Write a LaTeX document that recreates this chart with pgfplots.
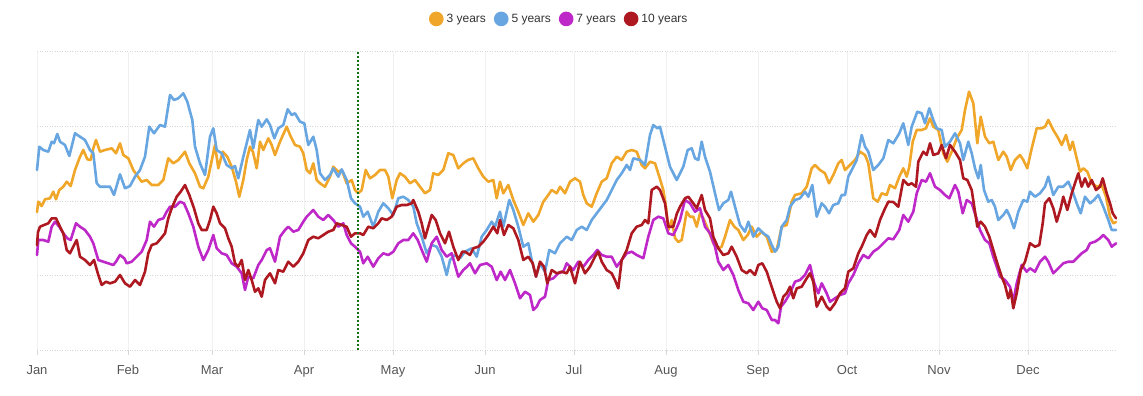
\documentclass[border=0pt]{standalone}
\usepackage{pgfplots}
\pgfplotsset{compat=1.18}
\usepackage{fontspec}
\setmainfont{Liberation Sans}
\definecolor{cOrange}{RGB}{240,166,40}
\definecolor{cBlue}{RGB}{104,166,226}
\definecolor{cMag}{RGB}{190,40,200}
\definecolor{cRed}{RGB}{174,24,32}
\definecolor{cGreen}{RGB}{20,110,20}
\definecolor{gridc}{RGB}{215,215,215}
\definecolor{ticklab}{RGB}{85,85,85}
\pgfplotsset{dotlegend/.style={legend image code/.code={\fill[##1] (0pt,0pt) circle (6pt);}}}
\begin{document}
\begin{tikzpicture}
\path[use as bounding box] (0,0) rectangle (1143pt,396pt);
\begin{axis}[
  at={(37pt,46pt)}, anchor=south west,
  scale only axis, width=1079pt, height=298pt,
  xmin=37, xmax=1116, ymin=52, ymax=350, y dir=reverse,
  axis line style={draw=none},
  xtick={37,128,212,304,393,485,574,666,758,847,939,1028},
  xticklabels={Jan,Feb,Mar,Apr,May,Jun,Jul,Aug,Sep,Oct,Nov,Dec},
  ytick={52,126.5,201,275.5}, yticklabels={},
  extra y ticks={350}, extra y tick labels={},
  extra y tick style={grid=major, major grid style={solid, draw=gridc, line width=1.3pt}, ytick style={draw=none}},
  ymajorgrids, xmajorgrids,
  y grid style={draw=gridc, line width=1pt, dash pattern=on 1pt off 1.5pt},
  x grid style={draw=gray!12, line width=1pt},
  ytick style={draw=none},
  xtick pos=lower,
  xtick style={draw=gridc, line width=1pt},
  tick align=outside, major tick length=5pt,
  xticklabel style={font=\fontsize{13}{15}\selectfont, text=ticklab, yshift=-7pt},
  clip=false,
  dotlegend,
  legend columns=4,
  legend style={at={(0.484,1.111)}, anchor=center, draw=none, fill=none,
    font=\fontsize{12}{14}\selectfont, text=black!80,
    /tikz/every even column/.append style={column sep=6pt},
    /tikz/every odd column/.append style={column sep=1pt}},
  every axis plot/.append style={line width=2.6pt, line join=round, line cap=round},
]
\addplot[cOrange] coordinates {
(37,212) (38.3,201.7) (41.7,206) (45,199.3) (50,198.3) (53.3,191.7) (56,199.3) (59.3,190) (63.3,186.7) (66.7,181.7) (70.7,186) (75,170) (80,156.7) (83.3,150) (87.3,159.3) (90.7,160) (93.3,148.3) (96,140) (100,151.7) (105,150) (111.7,148.3) (116,153.3) (120,143.3) (123.3,155) (128.3,158.3) (133.3,170) (136.7,175) (141.7,181.7) (146.7,180) (151.7,185) (158.3,185) (163.3,180) (168.3,158.3) (173.3,163.3) (178.3,160) (185,151.7) (189.3,163.3) (195,173.3) (200,186.7) (203.3,188.3) (208.3,176.7) (215,145) (218.3,168.3) (222.7,151.7) (227.3,156.7) (231.7,166.7) (236,181.7) (239.3,196.7) (243.3,180) (246.7,160) (250,146.7) (253,152) (256.7,168.3) (260,141.7) (263.3,150) (268.3,138.3) (271.7,145) (275,155) (280,141.7) (286.7,126.7) (290,135) (295,145) (300,146.7) (303.3,153.3) (306.7,170) (310,173.3) (313.3,163.3) (316.7,180) (320,183.3) (325,186.7) (330,176.7) (333.3,166.7) (338.3,171.7) (341.7,170) (346.7,183.3) (351.7,180) (355,190) (358.3,193.3) (361.7,190) (365.7,170) (370,178.3) (375,175) (380,170) (385,170) (388.3,176.7) (392.3,198.3) (396.7,180) (400,173.3) (405,176.7) (410,183.3) (415,180) (420,186.7) (425,193.3) (430,190) (433.3,173.3) (438.3,175) (443.3,170) (448.3,153.3) (453.3,155) (458.3,168.3) (463.3,163.3) (468,160) (473.3,158.3) (478.3,168.3) (483.3,176.7) (488.3,181.7) (493.3,180) (496.7,198.3) (500,181.7) (503.3,193.3) (508.3,185) (513.3,200) (518.3,211.7) (523.3,225) (528.3,213.3) (533.3,221.7) (538.3,215) (543.3,201.7) (548.3,195) (551.7,190) (556.7,193.3) (560,186.7) (565,193.3) (570,181.7) (575,178.3) (580,181.7) (583.3,195) (586.7,203.3) (591.7,206.7) (596.7,193.3) (601.7,181.7) (606.7,178.3) (611.7,163.3) (616.7,156.7) (621.7,160) (626.7,151.7) (631.7,150) (636.7,151.7) (641.7,165) (645,168.3) (650,161.7) (655,163.3) (659.3,176.7) (663.3,190) (666,206.7) (668.3,230) (671.7,220) (675,238) (678.3,242) (681.7,240) (686.7,211.7) (690,216.7) (693.3,216.7) (696.7,226.7) (700,213.3) (703.3,218.3) (708.3,230) (713.3,243.3) (718.3,248.3) (721.7,246.7) (725,236.7) (730,220) (734.3,226.7) (738.3,230) (743.3,240) (747.7,235) (751.7,226.7) (756.7,236.7) (761.7,231.7) (766.7,236.7) (771.7,251.7) (776.7,250) (781.7,226.7) (786.7,225) (791.7,201.7) (795,195) (801.7,193.3) (806.7,186.7) (811.7,168.3) (815,165) (820,170) (825,173.3) (829,183.3) (833.3,175) (838.3,163.3) (841.7,160) (845,170) (850,165) (855,160) (860,151.7) (865,155) (868.3,163.3) (873.3,198.3) (877.7,201.7) (881.7,193.3) (886.7,195) (890,185) (895,188.3) (899.3,176.7) (903.3,168.3) (906.7,176.7) (909.3,166.7) (912.7,141.7) (916.7,130) (921.7,130) (926,128.3) (930,118.3) (933.3,126.7) (938.3,130) (943.3,153.3) (947.3,161.7) (951.7,151.7) (956.7,138.3) (961.7,130) (965,110) (969,91.7) (973.3,103.3) (977.3,143.3) (980.7,116.7) (985,136.7) (989.3,143.3) (993.3,141.7) (998.3,160) (1003.3,151.7) (1006.7,156.7) (1010.7,170) (1015,160) (1020,155) (1023.3,160) (1027.3,168.3) (1031.7,148.3) (1036.7,128.3) (1041.7,128.3) (1045,126.7) (1048.3,120) (1053.3,130) (1058.3,138.3) (1061.7,145) (1066,135) (1070,150) (1072.7,141.7) (1076.7,158.3) (1080,171.7) (1083.3,168.3) (1087.3,171.7) (1091.7,183.3) (1096.7,186.7) (1101.7,185) (1106,196.7) (1110,216.7) (1113.3,223.3) (1116,222)
};
\addlegendentry{3 years}
\addplot[cBlue] coordinates {
(37,170) (39.3,146.7) (43.3,150) (48.3,151.7) (51.7,141.7) (54,143.3) (57.3,134) (60,141.7) (65,145) (69.3,156) (75,133.3) (80,136.7) (85,140) (90,150) (93.3,153.3) (96.7,183.3) (100,186.7) (110,186.7) (114,195) (120,174.3) (125,188.3) (130,186) (135,176.7) (140,170) (145,156.7) (149.3,126.7) (154,133.3) (160,125) (165,126.7) (170,95) (174,100) (178.3,98.3) (183.3,93.3) (187.3,101.7) (192.3,120) (195,146.7) (200,163.3) (205,175) (210,136.7) (213.3,128.3) (216.7,150) (221.7,153.3) (226.7,165) (231.7,168.3) (235,166) (238.3,178.3) (243.3,156.7) (250,130) (253.3,148.3) (258.3,120) (261.7,126.7) (266.7,119.3) (270,125) (274.3,138.3) (278.3,128.3) (283.3,125) (287.7,109.3) (291.7,115) (295,113.3) (300,121.7) (304.3,123.3) (308.3,145) (313.3,136.7) (316.7,150) (320,173.3) (325,180) (330,175) (333.3,168.3) (338.3,176.7) (341.7,169.3) (346.7,180) (351,198.3) (355,203.3) (360,206.7) (363.3,216.7) (367.7,211.7) (373.3,226.7) (378.3,211.7) (383.3,203.3) (388.3,208.3) (393.3,215) (398.3,198.3) (403.3,196.7) (408.3,200) (413.3,206.7) (416.7,223.3) (421.7,236.7) (426.7,253.3) (431.7,245) (436.7,246.7) (441.7,256.7) (446.7,275) (450,260) (455,255) (460,258.3) (465,251.7) (471.7,248.3) (476.7,256.7) (481.7,236.7) (486.7,230) (491.7,221.7) (495,226.7) (500,211.7) (503.3,226.7) (509.3,200) (513.3,210) (518.3,226.7) (523.3,246.7) (528.3,243.3) (531.7,260) (536,276.7) (540,263.3) (545,271.7) (549.3,250) (555,253.3) (560,243.3) (566.7,236.7) (571.7,240) (576.7,230) (581.7,226.7) (586.7,230) (591.7,220) (596.7,213.3) (601.7,206.7) (606.7,200) (611.7,190) (616.7,180) (621.7,173.3) (626.7,165) (630,170) (633.3,158.3) (640,160) (645,165) (650,135) (653.3,125) (657.3,128.3) (660,126.7) (665,146.7) (670,166.7) (676.7,180) (683.3,166.7) (687.7,150) (691.7,148.3) (695,158.3) (698.3,160) (701.7,141.7) (705,156.7) (710,171.7) (715,193.3) (719,210) (723.3,203.3) (728.3,200) (731,191.7) (735,206.7) (740,225) (745,231.7) (748.3,221.7) (753.3,236.7) (758.3,228.3) (763.3,233.3) (768.3,236.7) (771.7,245) (775,251.7) (778.3,246.7) (781.7,226.7) (786.7,220) (790,206.7) (795,200) (800,198.3) (805,191.7) (808.3,196.7) (812.3,185) (816.7,216.7) (821.7,203.3) (825,206.7) (829,213.3) (833.3,205) (838.3,203.3) (841.7,195) (845,195) (848.3,176.7) (851.7,170) (856.7,160) (861.7,135) (865,146.7) (868.3,151.7) (873.3,170) (878.3,165) (883.3,158.3) (888.3,140) (893.3,143.3) (899.3,133.3) (903.3,123.3) (908.3,145) (911.7,126.7) (917.3,111.7) (921.7,113.3) (925,123.3) (929.3,108.3) (933.3,120) (936.7,128.3) (941.7,130) (945,146.7) (950,141.7) (955,133.3) (960,143.3) (963.3,160) (968.3,141.7) (971.7,153.3) (975,168.3) (978.3,178.3) (980.7,165) (984,190) (988.3,201.7) (991.7,200) (995,206.7) (998.3,220) (1003.3,215) (1006.7,210) (1010,216.7) (1014,228.3) (1018.3,211.7) (1023.3,200) (1027.3,201.7) (1030,191.7) (1035,196.7) (1040,193.3) (1045,186.7) (1048.3,176.7) (1053.3,195) (1058.3,186.7) (1063.3,186.7) (1068.3,181.7) (1072.7,191.7) (1076.7,203.3) (1080.7,213.3) (1085,196.7) (1090,203.3) (1094,200) (1098.3,195) (1103.3,206.7) (1108.3,220) (1111.7,230) (1116,230)
};
\addlegendentry{5 years}
\addplot[cMag] coordinates {
(37,255) (38.3,240) (43.3,240) (48.3,241.7) (51.7,226.7) (55,221.7) (59.3,226.7) (63.3,233.3) (67.3,238.3) (70.7,240) (76,223.3) (80,226.7) (85,230) (90,236.7) (93.3,243.3) (98.3,260) (103.3,261.7) (108.3,263.3) (113.3,265) (116,261.7) (120,255) (124.3,258.3) (126.7,263.3) (131.7,261.7) (136.7,256.7) (141.7,251.7) (146.7,240) (150,221.7) (154,226.7) (158.3,220) (163.3,218.3) (166.7,211.7) (170,206.7) (175,206.7) (180,201.7) (184,203.3) (188.3,213.3) (193.3,226.7) (198.3,246.7) (203.3,260) (208.3,250) (213.3,235) (216.7,248.3) (221.7,253.3) (226.7,255) (231.7,263.3) (236.7,266.7) (241.7,273.3) (245,290) (248.3,276.7) (253.3,278.3) (258.3,265) (261.7,260) (266.7,250) (270,248.3) (275,261.7) (280,236.7) (285,230) (288.3,226.7) (293.3,231.7) (298.3,230) (303.3,221.7) (306.7,216.7) (313.3,210) (318.3,216.7) (323.3,220) (328.3,215) (333.3,220) (338.3,226.7) (343.3,223.3) (346.7,235) (351,243.3) (355,246.7) (360,251.7) (363.3,263.3) (367.7,256.7) (373.3,266.7) (378.3,258.3) (383.3,253.3) (388.3,255) (393.3,251.7) (398.3,243.3) (403.3,240) (408.3,240) (413.3,233.3) (417.7,240) (421.7,250) (426.7,261.7) (431.7,243.3) (436.7,236.7) (441.7,250) (446.7,256.7) (451.7,253.3) (458.3,276.7) (463.3,270) (467,266.7) (470,263.3) (475,273.3) (480,265) (486.7,263.3) (491.7,266.7) (496.7,280) (500.7,271.7) (505,280) (510,270) (515,283.3) (520,298.3) (525,291.7) (530,295) (533.3,310) (536.7,306.7) (540,300) (545,296.7) (548.3,280) (553.3,278.3) (558.3,273.3) (563.3,271.7) (566.7,263.3) (573.3,270) (578.3,261.7) (583.3,266.7) (588.3,260) (593.3,255) (597.3,250) (601.7,255) (606.7,256.7) (611.7,256.7) (616.7,266.7) (621.7,260) (626.7,253.3) (631.7,251.7) (636.7,255) (643.3,258.3) (648.3,236.7) (653.3,220) (658.3,216.7) (663.3,218.3) (668.3,233.3) (673.3,235) (676.7,228) (680,220) (685,200) (690,203.3) (695,211.7) (700,208.3) (705,226.7) (710,233.3) (715,246.7) (718.3,261.7) (723.3,270) (728.3,265) (733.3,275) (738.3,290) (743.3,301.7) (748.3,303.3) (753.3,310) (758.3,301.7) (762.3,308.3) (766.7,310) (771.7,320) (775,320) (778.3,323.3) (781,306.7) (785,301.7) (790,293.3) (795,281.7) (800,280) (805,275) (810,265) (814.3,283.3) (818.3,293.3) (821.7,283.3) (826.7,293.3) (830,301.7) (835,298.3) (840,295) (845,293.3) (848.3,283.3) (853.3,275) (858.3,263.3) (863.3,255) (868.3,258.3) (873.3,251.7) (878.3,248.3) (883.3,243.3) (888.3,238.3) (893.3,239.3) (899.3,230) (903.3,215) (908.3,221.7) (913.3,211.7) (916.7,193.3) (921.7,180) (926,181.7) (930,173.3) (935,186.7) (940,190) (945,195) (949.3,198.3) (955,185) (958.3,191.7) (962.7,213.3) (966.7,200) (971.7,203.3) (976,216.7) (980,230) (985,240) (989.3,243.3) (993.3,256.7) (996.7,266.7) (1000,276.7) (1005,280) (1010,286.7) (1013.3,301.7) (1016.7,283.3) (1021.7,265) (1026.7,271.7) (1030,268.3) (1035,271.7) (1040,261.7) (1045,256.7) (1048.3,261.7) (1053.3,273.3) (1058.3,268.3) (1063.3,263.3) (1068.3,261.7) (1073.3,261.7) (1076.7,258.3) (1081.7,253.3) (1086.7,250) (1090,243.3) (1095,241.7) (1100,238.3) (1103.3,235) (1108.3,240) (1111.7,246.7) (1116,243.3)
};
\addlegendentry{7 years}
\addplot[cRed] coordinates {
(37,245) (38,232) (40,226.7) (44,225) (48.3,223.3) (51.7,218.3) (56,218.3) (60,226.7) (63.3,233.3) (66.7,250) (70,253.3) (73.3,246.7) (76.7,240) (80,256.7) (85,260) (90,265) (94,260) (98.3,275) (101.7,285) (106,281.7) (110,283.3) (115,281.7) (120,275) (125,283.3) (130,286.7) (135,280) (140,285) (145,271.7) (148.3,253.3) (151.7,245) (156.7,243.3) (161,238.3) (165,233.3) (168.3,218.3) (171.7,208.3) (176.7,196.7) (180.7,191.7) (185,185) (189.3,195) (194,208.3) (198.3,223.3) (201.7,230) (206.7,230) (210,220) (213.3,206.7) (216.7,213.3) (220,223.3) (225,228.3) (228.3,238.3) (231.7,246.7) (235,263.3) (238.3,266.7) (241.7,260) (245,280) (248.3,270) (251.7,280) (255,291.7) (258.3,288.3) (261.7,296.7) (265,280) (270,273.3) (275,283.3) (278.3,270) (283.3,271.7) (288.3,261.7) (293.3,266.7) (298.3,261.7) (303.3,253.3) (308.3,240) (313.3,236.7) (318.3,238.3) (323.3,235) (328.3,231.7) (333.3,230) (336.7,223.3) (341.7,225) (346.7,226.7) (351,236.7) (355,233.3) (360,233.3) (363.3,235) (368.3,226.7) (373.3,228.3) (378.3,223.3) (381.7,218.3) (386.7,220) (391.7,216.7) (396.7,206.7) (401.7,205) (406.7,205) (411.7,203.3) (413.3,200) (418.3,211.7) (421.7,223.3) (425,238.3) (428.3,226.7) (431.7,215) (435.7,220) (440,233.3) (445,243.3) (449,231.7) (453.3,246.7) (458.3,260) (462.3,251.7) (465,251.7) (470,255) (473.3,248.3) (478.3,246.7) (483.3,241.7) (488.3,235) (493.3,226.7) (497.3,233.3) (500,220) (504,235) (508.3,225) (513.3,228.3) (518.3,240) (523.3,260) (528.3,256.7) (532.7,263.3) (536,276.7) (540,261.7) (544,266.7) (547.3,283.3) (551.7,270) (556.7,273.3) (561.7,271.7) (566.7,273.3) (570,266.7) (575,283.3) (580,261.7) (585,273.3) (590,266.7) (595,256.7) (598.3,251.7) (601.7,261.7) (606.7,270) (611.7,273.3) (615,280) (618.3,288.3) (621.7,260) (626.7,250) (631.7,233.3) (636.7,226.7) (641.7,225) (645,220) (648.3,223.3) (651.7,190) (656.7,186.7) (660,190) (665,203.3) (668.3,226.7) (673.3,226.7) (676.7,214) (680,206.7) (685,198.3) (688.3,196.7) (693.3,203.3) (696.7,208.3) (701.7,195) (705,210) (710,218.3) (713.3,236.7) (718.3,248.3) (723.3,255) (728.3,253.3) (731.7,246.7) (736.7,256.7) (741.7,270) (746.7,273.3) (750,270) (755,275) (758.3,265) (762.3,263.3) (766.7,271.7) (770,281.7) (773.3,291.7) (776.7,301.7) (780,308.3) (783.3,296.7) (786.7,293.3) (790,286.7) (793.3,298.3) (796.7,288.3) (801.7,286.7) (806.7,278.3) (810,273.3) (813.3,281.7) (816.7,306.7) (821.7,296.7) (826.7,306.7) (830,310) (835,303.3) (840,293.3) (845,288.3) (848.3,271.7) (853.3,268.3) (858.3,253.3) (861.7,246.7) (866.7,235) (870,230) (875,236.7) (880,220) (884.3,210) (888.3,201.7) (893.3,202) (898.3,206.7) (903.3,180) (908.3,185) (911.7,183.3) (916,186.7) (918.3,161.7) (923.3,151.7) (926.7,155) (930,143.3) (933.3,155) (938.3,153.3) (941.7,145) (946,158.3) (950,145) (955,151.7) (960,160) (963.3,178.3) (967.3,180) (971.7,190) (975,211.7) (977.3,226.7) (980.7,221.7) (985,226.7) (989.3,236.7) (993.3,250) (997.3,263.3) (1001.7,276.7) (1005,285) (1008.3,298.3) (1010.7,290) (1013.3,308.3) (1016.7,293.3) (1020.7,270) (1025,261.7) (1030,243.3) (1035,246.7) (1039.3,245) (1042.7,223.3) (1045,203.3) (1049.3,198.3) (1053.3,208.3) (1056.7,221.7) (1060.7,208.3) (1063.3,196.7) (1067.3,210) (1071.7,193.3) (1075,183.3) (1078.3,173.3) (1081.7,186.7) (1085,178.3) (1088.3,186.7) (1091.7,180) (1096,190) (1100,186.7) (1102.7,178.3) (1106.7,193.3) (1110,203.3) (1112.7,213.3) (1116,218.3)
};
\addlegendentry{10 years}
\addplot[cGreen, line width=2pt, line cap=butt, dash pattern=on 2pt off 2pt, forget plot] coordinates {(358,52) (358,350)};
\end{axis}
\end{tikzpicture}
\end{document}
